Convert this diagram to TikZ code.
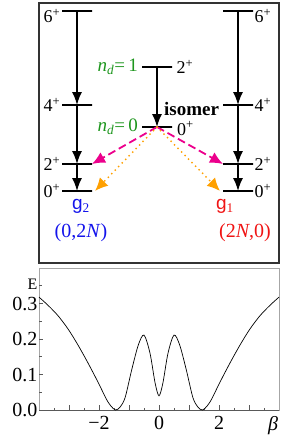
\documentclass[tikz,border=0pt]{standalone}
\usepackage{fontspec}
\setmainfont{Liberation Serif}
\newfontfamily\gfont{Liberation Sans}
\usepackage{tikz}
\usetikzlibrary{arrows.meta, positioning, calc}
\definecolor{ndgreen}{RGB}{30,150,30}
\definecolor{dorange}{RGB}{255,160,0}
\definecolor{gblue}{RGB}{20,20,235}
\definecolor{gred}{RGB}{240,20,20}
\tikzstyle{level} = [draw=black, line width=1.9pt, minimum width=30pt, minimum height=0pt, inner sep=0pt, outer sep=0pt]
\tikzstyle{trans} = [line width=1.5pt, -{Latex[length=13pt,width=10pt]}]
\tikzstyle{spin} = [font=\fontsize{18}{18}\selectfont, inner sep=0.5pt]
\tikzstyle{ndlab} = [text=ndgreen, font=\fontsize{19}{19}\selectfont, inner sep=1pt]
\tikzstyle{decayb} = [draw=magenta, line width=1.8pt, dash pattern=on 8pt off 4pt, -{Latex[length=13pt,width=12pt]}]
\tikzstyle{decayg} = [draw=dorange, line width=2pt, line cap=round, dash pattern=on 0pt off 5pt, -{Latex[length=13pt,width=12pt]}]
\tikzstyle{ticklab} = [font=\fontsize{20}{20}\selectfont, inner sep=1pt]

\begin{document}
\begin{tikzpicture}[x=1pt, y=-1pt]
    \useasboundingbox (0,0) rectangle (291,445);
    \draw[line width=1.6pt, draw=black!80] (39,3) rectangle (279,263);

    % g2 band
    \node (g2l6) [level] at (77,11) {};
    \node (g2l4) [level] at (77,105) {};
    \node (g2l2) [level] at (77,164) {};
    \node (g2l0) [level] at (77,191) {};
    \node (g2s6) [spin, left=1pt of g2l6, yshift=-5pt] {6\textsuperscript{+}};
    \node (g2s4) [spin, left=1pt of g2l4] {4\textsuperscript{+}};
    \node (g2s2) [spin, left=1pt of g2l2] {2\textsuperscript{+}};
    \node (g2s0) [spin, left=1pt of g2l0] {0\textsuperscript{+}};
    \draw[trans] (g2l6) -- (g2l4);
    \draw[trans] (g2l4) -- (g2l2);
    \draw[trans] (g2l2) -- (g2l0);

    % g1 band
    \node (g1l6) [level] at (238,11) {};
    \node (g1l4) [level] at (238,105) {};
    \node (g1l2) [level] at (238,164) {};
    \node (g1l0) [level] at (238,191) {};
    \node (g1s6) [spin, right=1pt of g1l6, yshift=-5pt] {6\textsuperscript{+}};
    \node (g1s4) [spin, right=1pt of g1l4] {4\textsuperscript{+}};
    \node (g1s2) [spin, right=1pt of g1l2] {2\textsuperscript{+}};
    \node (g1s0) [spin, right=1pt of g1l0] {0\textsuperscript{+}};
    \draw[trans] (g1l6) -- (g1l4);
    \draw[trans] (g1l4) -- (g1l2);
    \draw[trans] (g1l2) -- (g1l0);

    % isomer
    \node (i1) [level] at (157,67) {};
    \node (i0) [level] at (157,127) {};
    \node (is2) [spin, right=4pt of i1] {2\textsuperscript{+}};
    \node (is0) [spin, inner sep=0pt, right=5pt of i0, yshift=-1.5pt] {0\textsuperscript{+}};
    \node (nd1) [ndlab, left=3pt of i1] {\textit{n}\textsubscript{\textit{d}}=\,1};
    \node (nd0) [ndlab, left=3pt of i0] {\textit{n}\textsubscript{\textit{d}}=\,0};
    \draw[trans] (i1) -- (i0);
    \node (isolab) [font=\fontsize{19}{19}\selectfont\bfseries, inner sep=0pt, anchor=west] at (164,108.5) {isomer};

    % decays
    \draw[decayb] (i0.center) -- (g2l2.east);
    \draw[decayb] (i0.center) -- (g1l2.west);
    \draw[decayg] (i0.center) -- ([xshift=3pt]g2l0.east);
    \draw[decayg] (i0.center) -- ([xshift=-3pt]g1l0.west);

    % band names
    \node (g2n) [text=gblue, font=\fontsize{19}{19}\selectfont, below=5pt of g2l0, xshift=4pt] {{\gfont g}\textsubscript{2}};
    \node (g2q) [text=gblue, font=\fontsize{20}{20}\selectfont, below=3pt of g2n] {(0,2\textit{N})};
    \node (g1n) [text=gred, font=\fontsize{19}{19}\selectfont, below=5pt of g1l0, xshift=-13pt] {{\gfont g}\textsubscript{1}};
    \node (g1q) [text=gred, font=\fontsize{20}{20}\selectfont, below=3pt of g1n, xshift=20pt] {(2\textit{N},0)};

    % energy curve
    \begin{scope}[shift={(159,410)}, x=30pt, y=355pt]
        \draw[draw=black!35, line width=0.8pt] (-4,0) rectangle (4,0.4);
        \draw[draw=black!65, line width=1pt] (-4,0) -- (4,0);
        \foreach \b in {-3,...,3}
            \draw[draw=black!65, line width=0.8pt] (\b,0) -- ++(0,5pt);
        \foreach \b in {-3.5,-2.5,...,3.5}
            \draw[draw=black!65, line width=0.8pt] (\b,0) -- ++(0,2.5pt);
        \foreach \e in {0.1,0.2,0.3}
            \draw[draw=black!65, line width=0.8pt] (-4,\e) -- ++(4pt,0);
        \foreach \e in {0.05,0.15,0.25,0.35}
            \draw[draw=black!65, line width=0.8pt] (-4,\e) -- ++(2.5pt,0);
        \foreach \e [count=\i] in {0.0,0.1,0.2,0.3}
            \node (ylab\i) [ticklab, inner sep=0pt, anchor=east] at (-4.05,\e) {\e};
        \node (ylabE) [font=\fontsize{16}{16}\selectfont, inner sep=0pt, anchor=east] at (-4.05,0.355) {E};
        \foreach \b/\t [count=\i] in {-2/−2,0/0,2/2}
            \node (xlab\i) [ticklab, anchor=north] at (\b,-0.015) {\t};
        \node (xlabb) [ticklab, anchor=north, xshift=-6pt] at (4,-0.015) {\textit{β}};
        \draw[line width=0.7pt] plot[smooth, tension=0.5] coordinates {
            (-4,0.318) (-3.7,0.295) (-3.37,0.266) (-3.03,0.228) (-2.7,0.183)
            (-2.37,0.133) (-2.03,0.078) (-1.75,0.03) (-1.6,0.011) (-1.45,0) (-1.3,0.008)
            (-1.13,0.035) (-0.91,0.113) (-0.69,0.183) (-0.5,0.211) (-0.3,0.16) (-0.13,0.076)
            (0,0.04) (0.13,0.076) (0.3,0.16) (0.5,0.211) (0.69,0.183) (0.91,0.113)
            (1.13,0.035) (1.3,0.008) (1.45,0) (1.6,0.011) (1.75,0.03) (2.03,0.078)
            (2.37,0.133) (2.7,0.183) (3.03,0.228) (3.37,0.266) (3.7,0.295) (4,0.318)};
    \end{scope}
\end{tikzpicture}
\end{document}
